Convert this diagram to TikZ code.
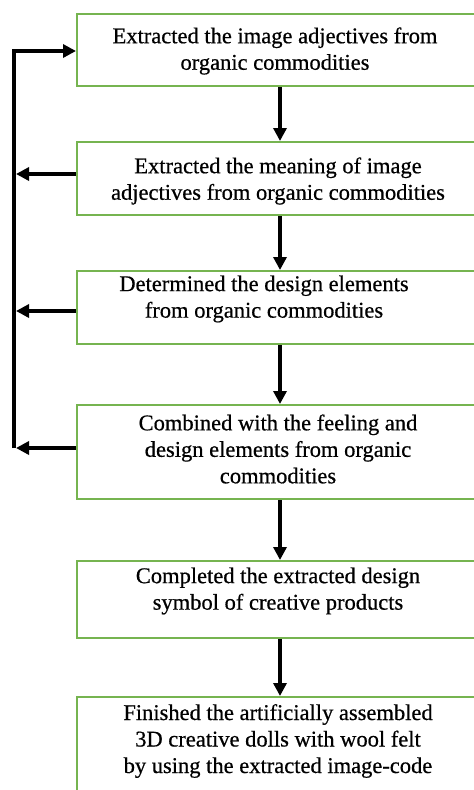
\documentclass[tikz,border=0pt]{standalone}
\usepackage{fontspec}
\setmainfont{Liberation Serif}[FakeBold=0.6]
\newfontfamily\stepfont{Liberation Serif}[FakeBold=0.6]
\usetikzlibrary{arrows.meta}
\definecolor{boxgreen}{RGB}{118,180,80}
\begin{document}
\begin{tikzpicture}[x=1pt,y=-1pt,
  stepbox/.style={draw=boxgreen,line width=2pt,minimum width=406pt,inner sep=0pt,anchor=north west},
  steptext/.style={font=\stepfont\fontsize{22.5}{26.5}\selectfont,align=center,inner sep=0pt},
  flow/.style={line width=3.5pt,-{Triangle[length=13pt,width=13pt]}},
  rail/.style={line width=3.5pt,line join=miter}]
\useasboundingbox (0,0) rectangle (474,790);
\clip (0,0) rectangle (474,790);
% boxes
\node[stepbox,minimum height=72pt]  (b1) at (76,13)  {};
\node[stepbox,minimum height=73pt]  (b2) at (76,141) {};
\node[stepbox,minimum height=73pt]  (b3) at (76,270) {};
\node[stepbox,minimum height=94pt]  (b4) at (76,404) {};
\node[stepbox,minimum height=77pt]  (b5) at (76,560) {};
\node[stepbox,minimum height=120pt] (b6) at (76,696) {};
% texts
\node[steptext] (t1) at (275,51)  {Extracted the image adjectives from\\organic commodities};
\node[steptext] (t2) at (278,181) {Extracted the meaning of image\\adjectives from organic commodities};
\node[steptext] (t3) at (264,299) {Determined the design elements\\from organic commodities};
\node[steptext] (t4) at (278,449) {Combined with the feeling and\\design elements from organic\\commodities};
\node[steptext] (t5) at (278,591) {Completed the extracted design\\symbol of creative products};
\node[steptext] (t6) at (278,741) {Finished the artificially assembled\\3D creative dolls with wool felt\\by using the extracted image-code};
% main flow
\draw[flow] (b1.south) -- (b2.north);
\draw[flow] (b2.south) -- (b3.north);
\draw[flow] (b3.south) -- (b4.north);
\draw[flow] (b4.south) -- (b5.north);
\draw[flow] (b5.south) -- (b6.north);
% feedback
\coordinate (rail) at (14,0);
\coordinate (railtip) at (16,0);
\coordinate (in1) at ([yshift=-1pt]b1.west);
\coordinate (f2) at ([yshift=4.5pt]b2.west);
\coordinate (f3) at ([yshift=-3.5pt]b3.west);
\coordinate (f4) at ([yshift=4pt]b4.west);
\draw[rail] (rail |- f4) -- (rail |- in1);
\draw[flow] ([xshift=-1.75pt]rail |- in1) -- (in1);
\draw[flow] (f2) -- (railtip |- f2);
\draw[flow] (f3) -- (railtip |- f3);
\draw[flow] (f4) -- (railtip |- f4);
\end{tikzpicture}
\end{document}
